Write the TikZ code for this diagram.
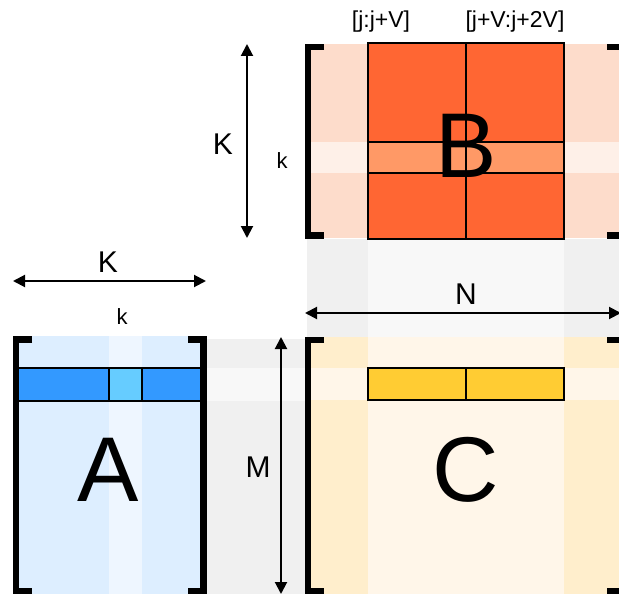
\documentclass[tikz,border=0pt]{standalone}
\usepackage{fontspec}
\setmainfont{Liberation Sans}
\usetikzlibrary{arrows.meta}
\definecolor{bLight}{HTML}{FDDCCB}
\definecolor{bRow}{HTML}{FEF0E8}
\definecolor{bDark}{HTML}{FF6633}
\definecolor{bHi}{HTML}{FF9966}
\definecolor{gSide}{HTML}{F0F0F0}
\definecolor{gMid}{HTML}{F8F8F8}
\definecolor{cSide}{HTML}{FFEECC}
\definecolor{cMid}{HTML}{FFF6E9}
\definecolor{cHi}{HTML}{FFCC33}
\definecolor{aLight}{HTML}{DDEEFF}
\definecolor{aCol}{HTML}{EEF6FF}
\definecolor{aRow}{HTML}{3399FF}
\definecolor{aCell}{HTML}{66CCFF}
\tikzset{
  bracketline/.style={line width=6.5pt, line join=miter},
  cellline/.style={draw=black, line width=2.8pt},
  dimarrow/.style={line width=2pt, {Triangle[length=12pt,width=12pt]}-{Triangle[length=12pt,width=12pt]}},
  biglab/.style={font=\fontsize{92}{92}\selectfont, inner sep=0pt},
  dimlab/.style={font=\fontsize{30}{32}\selectfont, inner sep=0pt},
  smalllab/.style={font=\fontsize{22}{24}\selectfont, inner sep=0pt},
  toplab/.style={font=\fontsize{23}{25}\selectfont, inner sep=0pt},
}
\begin{document}
\begin{tikzpicture}[x=1pt,y=-1pt]
\useasboundingbox (0,0) rectangle (619,594);
\clip (0,0) rectangle (619,594);
% gray zones
\fill[gSide] (307,239) rectangle (625,337);
\fill[gMid] (368,239) rectangle (564,337);
\fill[gSide] (207,339) rectangle (305,594);
\fill[gMid] (207,368) rectangle (305,401);
% B
\fill[bLight] (311,44) rectangle (625,238);
\fill[bRow] (311,142) rectangle (625,173);
\fill[bDark] (368,43) rectangle (564,239);
\fill[bHi] (368,142) rectangle (564,173);
\draw[cellline] (368,43) rectangle (564,239);
\draw[cellline] (368,142) -- (564,142) (368,173) -- (564,173) (466,43) -- (466,239);
% C
\fill[cSide] (311,337) rectangle (625,594);
\fill[cMid] (368,337) rectangle (564,594);
\fill[cMid] (311,368) rectangle (625,400);
\fill[cHi] (368,368) rectangle (564,400);
\draw[cellline] (368,368) rectangle (564,400);
\draw[cellline] (466,368) -- (466,400);
% A
\fill[aLight] (19,336) rectangle (200,594);
\fill[aCol] (109,336) rectangle (142,594);
\fill[aRow] (19,368) rectangle (200,401);
\fill[aCell] (109,368) rectangle (142,401);
\draw[cellline] (19,368) -- (200,368) (19,401) -- (200,401) (109,368) -- (109,401) (142,368) -- (142,401);
% brackets
\draw[bracketline] (32,339.5) -- (16,339.5) -- (16,591) -- (32,591);
\draw[bracketline] (188,339.5) -- (203.5,339.5) -- (203.5,591) -- (188,591);
\draw[bracketline] (324,47) -- (308,47) -- (308,235.5) -- (324,235.5);
\draw[bracketline] (607,47) -- (623,47) -- (623,235.5) -- (607,235.5);
\draw[bracketline] (324,340) -- (308,340) -- (308,591) -- (324,591);
\draw[bracketline] (607,340) -- (623,340) -- (623,591) -- (607,591);
% dimension arrows
\coordinate (kaL) at (13,281);
\coordinate (kaR) at (206,281);
\coordinate (kbT) at (247,44);
\coordinate (kbB) at (247,238);
\coordinate (nL) at (305,313);
\coordinate (nR) at (621,313);
\coordinate (mT) at (281,337);
\coordinate (mB) at (281,594);
\draw[dimarrow] (kaL) -- (kaR);
\draw[dimarrow] (kbT) -- (kbB);
\draw[dimarrow] (nL) -- (nR);
\draw[dimarrow] (mT) -- (mB);
% labels
\node[biglab] (labA) at (108,470) {A};
\node[biglab] (labB) at (466,146) {B};
\node[biglab] (labC) at (466,470) {C};
\node[dimlab] (labKa) at (108,262) {K};
\node[dimlab] (labKb) at (223,144) {K};
\node[dimlab] (labN) at (466,294) {N};
\node[dimlab] (labM) at (258,467) {M};
\node[smalllab] (labka) at (122,317) {k};
\node[smalllab] (labkb) at (282,161) {k};
\node[toplab] (labj1) at (381,22) {[j:j+V]};
\node[toplab] (labj2) at (515,22) {[j+V:j+2V]};
\end{tikzpicture}
\end{document}
